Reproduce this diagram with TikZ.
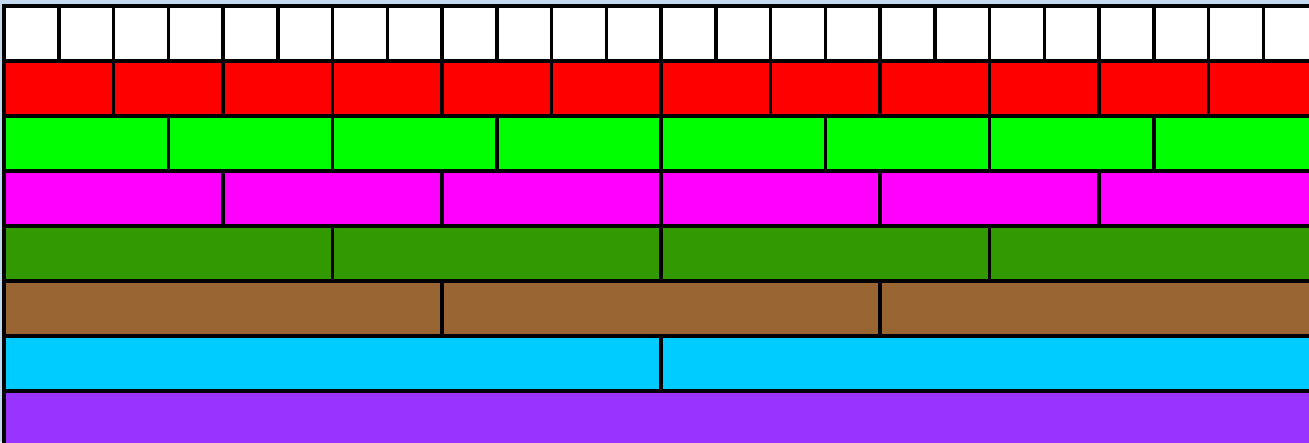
\documentclass[tikz,border=0pt]{standalone}
\definecolor{bgblue}{HTML}{C2D8EE}
\definecolor{cwhite}{HTML}{FFFFFF}
\definecolor{cred}{HTML}{FF0000}
\definecolor{cgreen}{HTML}{00FF00}
\definecolor{cmagenta}{HTML}{FF00FF}
\definecolor{cdkgreen}{HTML}{339900}
\definecolor{cbrown}{HTML}{996633}
\definecolor{ccyan}{HTML}{00CCFF}
\definecolor{cpurple}{HTML}{9933FF}
\begin{document}
\begin{tikzpicture}[x=1pt,y=-1pt,
  cell/.style={draw=black,line width=3.5pt}]
\useasboundingbox (0,0) rectangle (1309,442);
\fill[bgblue] (0,0) rectangle (1309,442);
\begin{scope}
\clip (0,0) rectangle (1309,442);
\foreach \row/\span/\col in {0/1/cwhite,1/2/cred,2/3/cgreen,3/4/cmagenta,4/6/cdkgreen,5/8/cbrown,6/12/ccyan,7/24/cpurple}{
  \pgfmathtruncatemacro\n{24/\span-1}
  \pgfmathsetmacro\w{\span*54.75}
  \foreach \i in {0,...,\n}{
    \draw[cell,fill=\col] ({4+\i*\w},{6+55*\row}) rectangle ({4+(\i+1)*\w},{61+55*\row});
  }
}
\end{scope}
\end{tikzpicture}
\end{document}
